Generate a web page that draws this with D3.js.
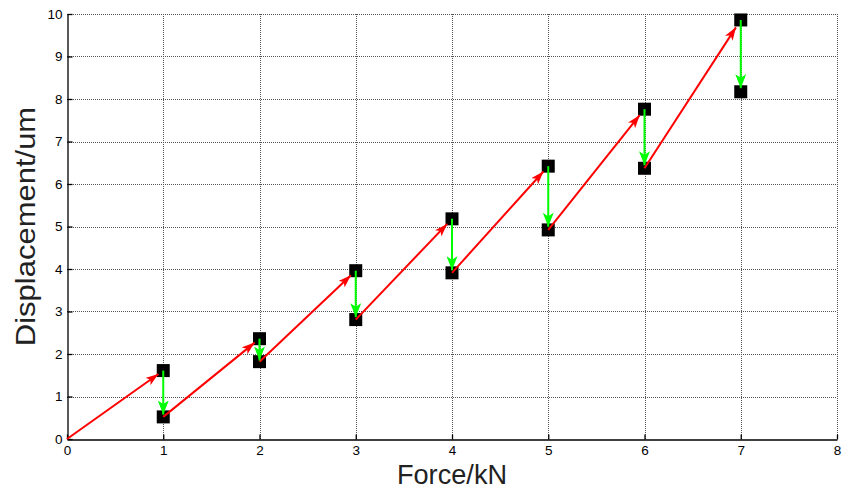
<!DOCTYPE html>
<html>
<head>
<meta charset="utf-8">
<script src="https://cdn.jsdelivr.net/npm/d3@7"></script>
<style>
  html, body { margin: 0; padding: 0; background: #fff; }
  svg { display: block; font-family: "Liberation Sans", Arial, Helvetica, sans-serif; }
</style>
</head>
<body>
<svg id="chart" width="848" height="491"></svg>
<script>
// donnees
const forces = [1, 2, 3, 4, 5, 6, 7];
const loaded = [1.61, 2.36, 3.96, 5.18, 6.42, 7.76, 9.86];   // deplacement sous charge
const unloaded = [0.52, 1.82, 2.81, 3.91, 4.92, 6.37, 8.17]; // apres relachement
const xTicks = [0, 1, 2, 3, 4, 5, 6, 7, 8];
const yTicks = [0, 1, 2, 3, 4, 5, 6, 7, 8, 9, 10];

const W = 848, H = 491;
const m = { left: 67, right: 11, top: 14, bottom: 52 };

const svg = d3.select('#chart');
const x = d3.scaleLinear().domain([0, 8]).range([m.left, W - m.right]);
const y = d3.scaleLinear().domain([0, 10]).range([H - m.bottom, m.top]);

// --- grille pointillee ---
const grid = svg.append('g').attr('stroke', '#555').attr('stroke-width', 1).attr('stroke-dasharray', '1,1');
grid.selectAll('line.v').data(xTicks.slice(1)).join('line')
    .attr('x1', d => Math.round(x(d)) + 0.5).attr('x2', d => Math.round(x(d)) + 0.5)
    .attr('y1', y(0)).attr('y2', y(10));
grid.selectAll('line.h').data(yTicks.slice(1)).join('line')
    .attr('y1', d => Math.round(y(d)) + 0.5).attr('y2', d => Math.round(y(d)) + 0.5)
    .attr('x1', x(0)).attr('x2', x(8));

// --- axes ---
const xAxis = svg.append('g')
    .attr('transform', `translate(0,${Math.round(y(0)) + 0.5})`)
    .call(d3.axisBottom(x).tickValues(xTicks).tickSizeInner(-5).tickSizeOuter(0).tickPadding(6));
const yAxis = svg.append('g')
    .attr('transform', `translate(${Math.round(x(0)) + 0.5},0)`)
    .call(d3.axisLeft(y).tickValues(yTicks).tickSizeInner(-5).tickSizeOuter(0).tickPadding(5));

[xAxis, yAxis].forEach(a => {
    a.select('.domain').attr('stroke', '#000').attr('stroke-width', 1.3);
    a.selectAll('.tick line').attr('stroke', '#000').attr('stroke-width', 1.3);
    a.selectAll('.tick text').attr('font-size', 13.5).attr('fill', '#000')
        .attr('font-family', '"Liberation Sans", Arial, sans-serif');
});

// --- marqueurs carres ---
const sq = 13;
const pts = forces.flatMap((f, i) => [[f, loaded[i]], [f, unloaded[i]]]);
svg.append('g').selectAll('rect').data(pts).join('rect')
    .attr('x', d => x(d[0]) - sq / 2).attr('y', d => y(d[1]) - sq / 2)
    .attr('width', sq).attr('height', sq).attr('fill', '#000');

// --- fleches ---
const defs = svg.append('defs');
function head(id, color, len, wid) {
    defs.append('marker').attr('id', id)
        .attr('viewBox', `0 0 ${len} ${wid}`)
        .attr('refX', len).attr('refY', wid / 2)
        .attr('markerWidth', len).attr('markerHeight', wid)
        .attr('markerUnits', 'userSpaceOnUse').attr('orient', 'auto')
        .append('path').attr('d', `M0,0L${len},${wid / 2}L0,${wid}L${len * 0.25},${wid / 2}Z`)
        .attr('fill', color);
}
head('redHead', '#ff0000', 13, 9);
head('greenHead', '#00ff00', 14, 11);

const scale = 0.95; // facteur d'echelle des fleches (quiver)
const redArrows = forces.map((f, i) => ({
    x0: i === 0 ? 0 : forces[i - 1], y0: i === 0 ? 0 : unloaded[i - 1],
    x1: f, y1: loaded[i]
}));
const greenArrows = forces.map((f, i) => ({ x0: f, y0: loaded[i], x1: f, y1: unloaded[i] }));

function drawArrows(data, color, marker) {
    svg.append('g').selectAll('line').data(data).join('line')
        .attr('x1', d => x(d.x0)).attr('y1', d => y(d.y0))
        .attr('x2', d => x(d.x0) + (x(d.x1) - x(d.x0)) * scale)
        .attr('y2', d => y(d.y0) + (y(d.y1) - y(d.y0)) * scale)
        .attr('stroke', color).attr('stroke-width', 2)
        .attr('marker-end', `url(#${marker})`);
}
drawArrows(redArrows, '#ff0000', 'redHead');
drawArrows(greenArrows, '#00ff00', 'greenHead');

// --- titres des axes ---
svg.append('text')
    .attr('transform', `translate(${(x(0) + x(8)) / 2},${H - 7}) scale(0.97,1)`)
    .attr('text-anchor', 'middle').attr('font-size', 28).attr('fill', '#222')
    .text('Force/kN');
svg.append('text')
    .attr('transform', `translate(35,${(y(0) + y(10)) / 2}) rotate(-90) scale(1,0.92)`)
    .attr('text-anchor', 'middle').attr('font-size', 31).attr('fill', '#222')
    .text('Displacement/um');
</script>
</body>
</html>
